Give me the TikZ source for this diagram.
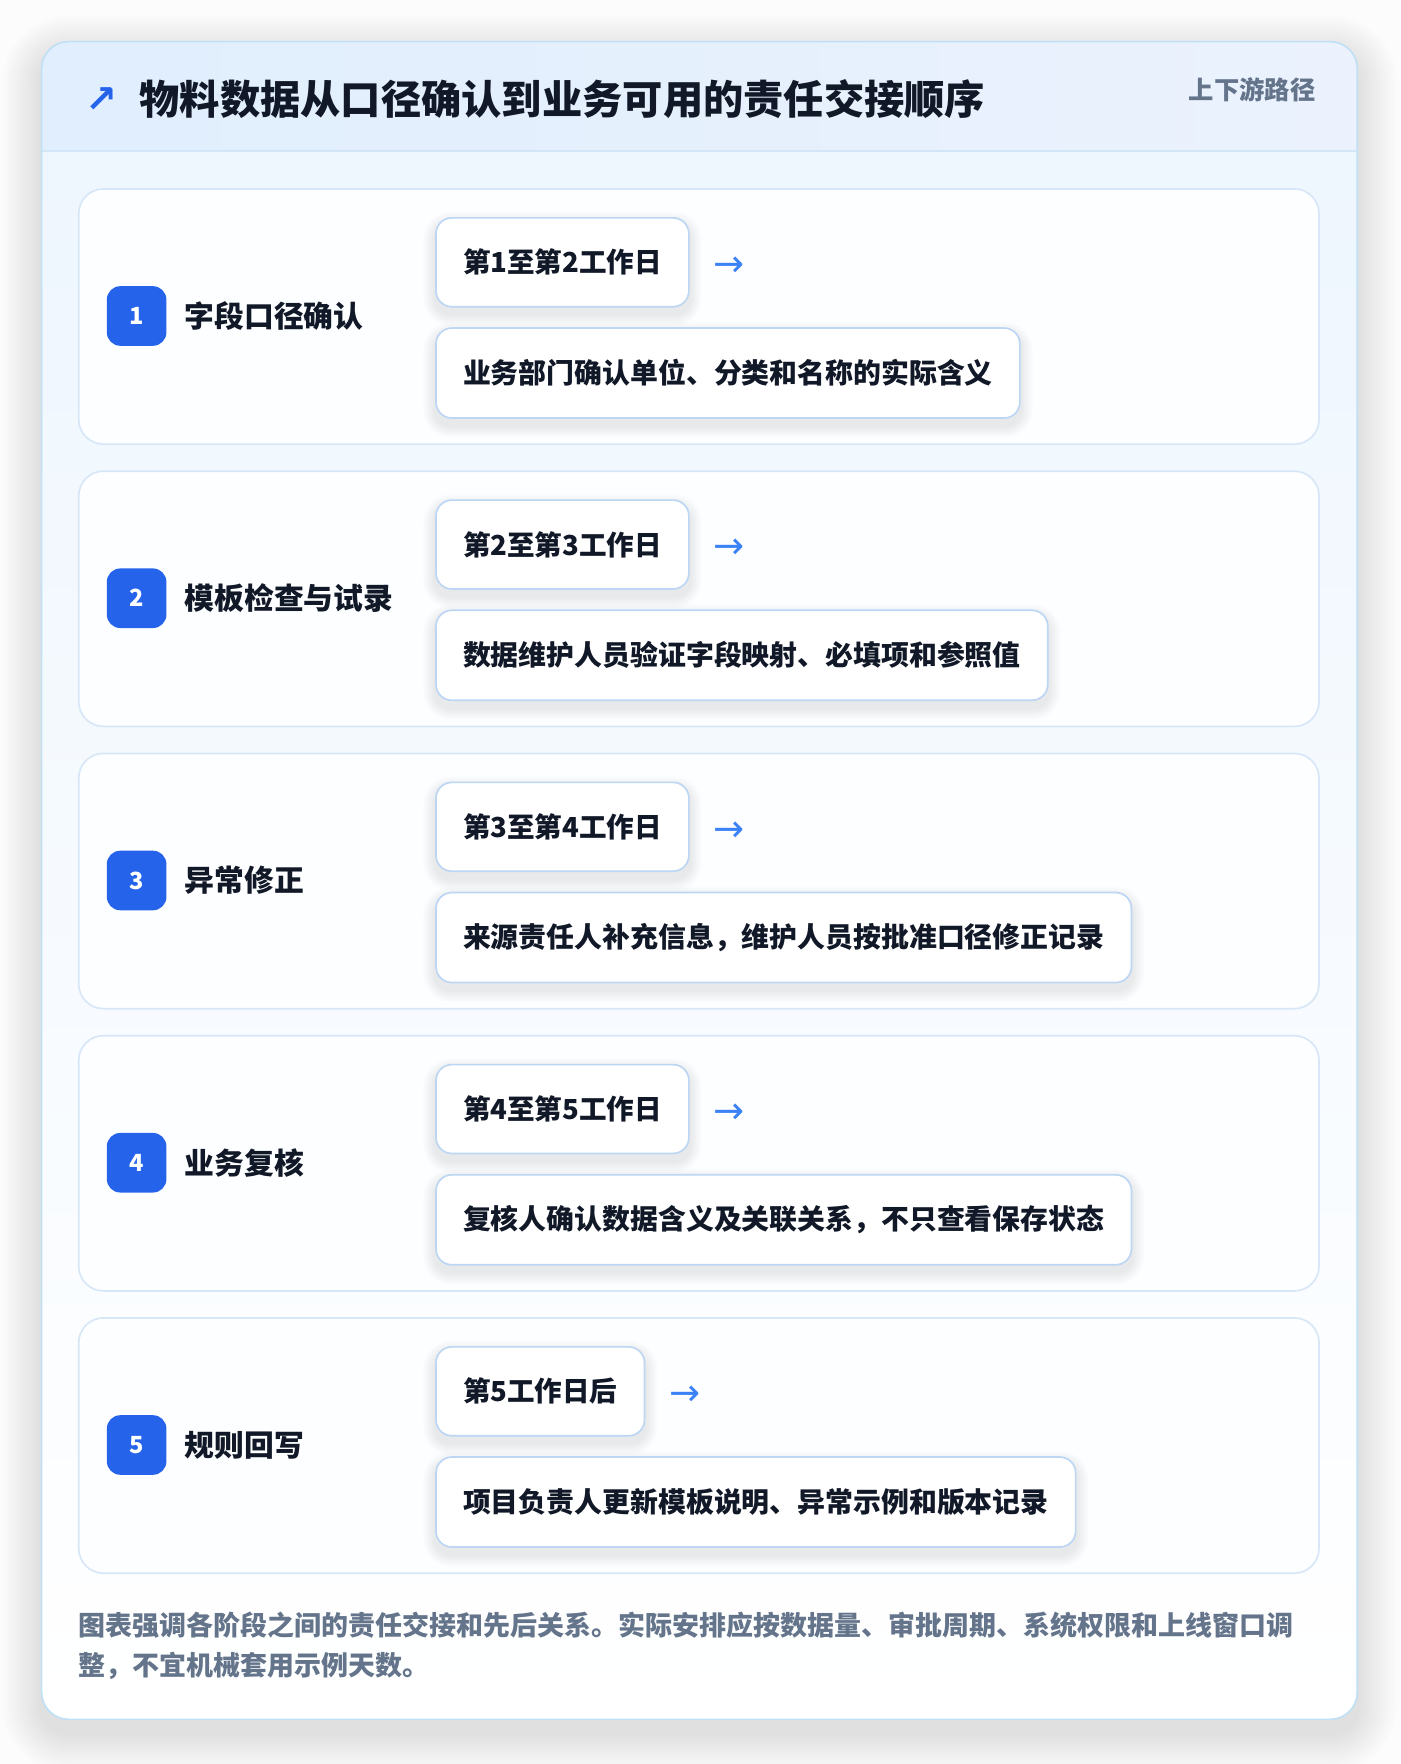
\documentclass[tikz,border=0pt]{standalone}
\usepackage{fontspec}
\setmainfont{Noto Sans CJK SC}
\newfontfamily\symfont{DejaVu Sans}
\definecolor{pagebg}{HTML}{FCFCFD}
\definecolor{cardborder}{HTML}{BFE0F5}
\definecolor{headl}{HTML}{E0EEFD}
\definecolor{headr}{HTML}{EBF2FD}
\definecolor{headline}{HTML}{D3E6F8}
\definecolor{bodytop}{HTML}{EEF6FE}
\definecolor{stageborder}{HTML}{D8E7F7}
\definecolor{stagefill}{HTML}{FDFEFF}
\definecolor{boxborder}{HTML}{BCD6F4}
\definecolor{badge}{HTML}{2563EB}
\definecolor{arrowblue}{HTML}{3B82F6}
\definecolor{ink}{HTML}{111827}
\definecolor{muted}{HTML}{64748B}
\definecolor{shadowc}{HTML}{1E293B}
\tikzset{
  stagecard/.style={draw=stageborder, line width=1.5pt, fill=stagefill, rounded corners=22pt},
  badgebox/.style={fill=badge, rounded corners=12pt, minimum width=53pt, minimum height=53pt, inner sep=0pt, text=white, font=\fontsize{21}{24}\selectfont\bfseries},
  stagelabel/.style={anchor=west, inner sep=0pt, text=ink, font=\fontsize{26.5}{30}\selectfont\bfseries},
  infobox/.style={draw=boxborder, line width=1.5pt, fill=white, rounded corners=14pt, inner xsep=24pt, inner ysep=0pt, anchor=north west, text=ink},
  datebox/.style={infobox, minimum height=79pt, font=\fontsize{24.5}{30}\selectfont\bfseries},
  descbox/.style={infobox, minimum height=80pt, font=\fontsize{24.8}{30}\selectfont\bfseries},
  flowarrow/.style={anchor=west, inner sep=0pt, text=arrowblue, font=\fontsize{33}{34}\selectfont\symfont},
  softshadow/.style={fill=shadowc, opacity=0.012},
}
\newcommand{\boxshadow}[1]{%
  \foreach \k in {1,...,7}{%
    \pgfmathsetmacro{\r}{14+\k*1.5}%
    \fill[softshadow, rounded corners=\r pt]
      ([xshift=-\k*1.5pt, yshift=-6pt+\k*1.5pt]#1.north west) rectangle ([xshift=\k*1.5pt, yshift=-6pt-\k*1.5pt]#1.south east);
  }%
}
\begin{document}
\begin{tikzpicture}[x=1pt,y=-1pt]
\useasboundingbox[fill=pagebg] (0,0) rectangle (1245,1568.7);
% outer card shadow
\foreach \k in {1,...,14}{
  \pgfmathsetmacro{\r}{24+\k*2.5}
  \pgfmathsetmacro{\e}{\k*2.5}
  \fill[shadowc, opacity=0.0075, rounded corners=\r pt]
    (37-\e, 37-\e+12) rectangle (1207+\e, 1529+\e+12);
}
\path[fill=white, rounded corners=24pt] (37,37) rectangle (1207,1529);
\begin{scope}
  \clip[rounded corners=24pt] (37,37) rectangle (1207,1529);
  \shade[top color=bodytop, bottom color=white] (37,134) rectangle (1207,1529);
  \shade[left color=headl, right color=headr] (37,37) rectangle (1207,134);
  \draw[headline, line width=1.5pt] (37,134) -- (1207,134);
\end{scope}
\draw[cardborder, line width=1.5pt, rounded corners=24pt] (37,37) rectangle (1207,1529);
% header
\node[anchor=center, inner sep=0pt, text=badge, font=\fontsize{34}{36}\selectfont\symfont\bfseries] (icon) at (90.5,89) {↗};
\node[anchor=west, inner sep=0pt, text=ink, font=\fontsize{35.8}{42}\selectfont\bfseries] (title) at (124,88) {物料数据从口径确认到业务可用的责任交接顺序};
\node[anchor=east, inner sep=0pt, text=muted, font=\fontsize{22.5}{26}\selectfont\bfseries] (tag) at (1170,80) {上下游路径};
% stages
\foreach \i/\lab/\dt/\desc in {
  1/字段口径确认/第1至第2工作日/业务部门确认单位、分类和名称的实际含义,
  2/模板检查与试录/第2至第3工作日/数据维护人员验证字段映射、必填项和参照值,
  3/异常修正/第3至第4工作日/来源责任人补充信息，维护人员按批准口径修正记录,
  4/业务复核/第4至第5工作日/复核人确认数据含义及关联关系，不只查看保存状态,
  5/规则回写/第5工作日后/项目负责人更新模板说明、异常示例和版本记录}{
  \pgfmathsetmacro{\top}{168+(\i-1)*251}
  \pgfmathsetmacro{\bot}{\top+227}
  \pgfmathsetmacro{\mid}{\top+113}
  \draw[stagecard] (70,\top) rectangle (1173,\bot);
  \node[badgebox] (b\i) at (121.5,\mid) {\i};
  \node[stagelabel] (l\i) at (164,\mid) {\lab};
  \path (387,\top+25) node[datebox, draw=none, fill=none, text opacity=0] (dtmp\i) {\dt};
  \path (387,\top+123) node[descbox, draw=none, fill=none, text opacity=0] (etmp\i) {\desc};
  \boxshadow{dtmp\i}
  \boxshadow{etmp\i}
  \node[datebox] (d\i) at (387,\top+25) {\dt};
  \node[flowarrow] (a\i) at ([xshift=21pt, yshift=-4pt]d\i.east) {→};
  \node[descbox] (e\i) at (387,\top+123) {\desc};
}
% footer note
\node[anchor=north west, align=left, inner sep=0pt, text=muted, font=\fontsize{24}{36}\selectfont\bfseries] (note) at (70,1433)
  {图表强调各阶段之间的责任交接和先后关系。实际安排应按数据量、审批周期、系统权限和上线窗口调\\整，不宜机械套用示例天数。};
\end{tikzpicture}
\end{document}
